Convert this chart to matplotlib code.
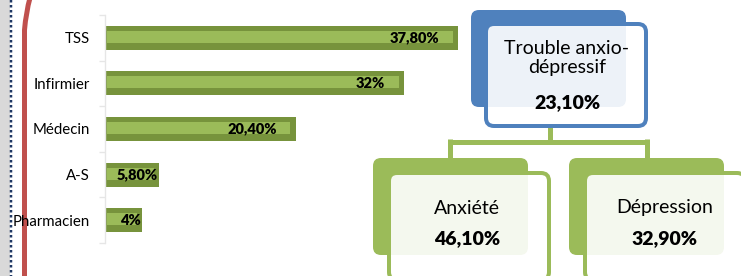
import matplotlib
matplotlib.use("Agg")
import matplotlib.pyplot as plt
from matplotlib.patches import FancyBboxPatch, Rectangle, PathPatch
from matplotlib.path import Path
import numpy as np

plt.rcParams['font.family'] = ['Lato', 'DejaVu Sans']

categories = ["TSS", "Infirmier", "Médecin", "A-S", "Pharmacien"]
values = [37.8, 32.0, 20.4, 5.8, 4.0]
value_labels = ["37,80%", "32%", "20,40%", "5,80%", "4%"]

top_title = "Trouble anxio-\ndépressif"
top_value = "23,10%"
child_titles = ["Anxiété", "Dépression"]
child_values = ["46,10%", "32,90%"]

W, H = 741, 276
fig = plt.figure(figsize=(W / 100, H / 100), dpi=100)

# overlay axes in pixel coordinates
ov = fig.add_axes([0, 0, 1, 1])
ov.set_xlim(0, W)
ov.set_ylim(H, 0)
ov.axis('off')

DARK = '#77933C'
LIGHT = '#9BBB59'
BLUE = '#4F81BD'
RED = '#C0504D'
px = 0.72  # points per pixel

# left decorations
ov.add_patch(Rectangle((0, 0), 9.5, H, color='#D9D9D9', lw=0))
ov.plot([11.2, 11.2], [0, H], color='#1F3864', lw=2.5 * px,
        linestyle=(0, (1.0, 1.0)), solid_capstyle='butt', dash_capstyle='butt')
red_path = Path([(30, -2), (26, 12), (24.5, 30), (24.5, H + 2)],
                [Path.MOVETO, Path.CURVE3, Path.CURVE3, Path.LINETO])
ov.add_patch(PathPatch(red_path, fill=False, edgecolor=RED, lw=5 * px))

# bar chart axes
ax_left, ax_w = 105, 400
ax_top, ax_bot = 15, 243
ax = fig.add_axes([ax_left / W, 1 - ax_bot / H, ax_w / W, (ax_bot - ax_top) / H])
ax.patch.set_alpha(0)
scale = 9.34  # px per unit
ax.set_xlim(0, ax_w / scale)
n = len(categories)
ax.set_ylim(n - 0.5, -0.5)
y = np.arange(n)
slot = (ax_bot - ax_top) / n
outer_h = 24 / slot
inner_h = 12 / slot
vals = np.array(values)
ax.barh(y, vals, height=outer_h, color=DARK, lw=0, zorder=2)
ax.barh(y - 1 / slot, vals - 0.75, left=0.2, height=inner_h, color=LIGHT, lw=0, zorder=3)
for yi, v, lab in zip(y, values, value_labels):
    xr = v - 2.0 if v > 10 else v - 0.15
    ax.text(xr, yi, lab, ha='right', va='center', fontsize=10.5,
            fontweight='heavy', color='black', zorder=4)
ax.set_yticks(y)
ax.set_yticklabels(categories, fontsize=10.8)
ax.tick_params(axis='y', length=0, pad=11)
ax.set_yticks(np.arange(n + 1) - 0.5, minor=True)
ax.tick_params(axis='y', which='minor', length=4, color='#E6E6E6', width=1)
ax.set_xticks([])
for s in ['top', 'right', 'bottom']:
    ax.spines[s].set_visible(False)
ax.spines['left'].set_color('#E6E6E6')
ax.spines['left'].set_linewidth(1)


def rbox(x0, y0, x1, y1, fc, ec=None, lw=0, alpha=None, r=8, z=2):
    p = FancyBboxPatch((x0, y0), x1 - x0, y1 - y0,
                       boxstyle=f"round,pad=0,rounding_size={r}",
                       facecolor=fc, edgecolor=ec if ec else 'none', lw=lw, zorder=z)
    if alpha is not None:
        p.set_facecolor(matplotlib.colors.to_rgba(fc, alpha))
    ov.add_patch(p)


# connectors
ov.plot([549.5, 549.5], [126, 141.5], color=LIGHT, lw=5 * px, zorder=1, solid_capstyle='butt')
ov.plot([450, 647], [141.5, 141.5], color=LIGHT, lw=5 * px, zorder=1, solid_capstyle='butt')
ov.plot([450, 450], [139, 160], color=LIGHT, lw=5 * px, zorder=1, solid_capstyle='butt')
ov.plot([647, 647], [139, 160], color=LIGHT, lw=5 * px, zorder=1, solid_capstyle='butt')

# top box
rbox(471, 10, 626, 107, BLUE, z=2)
rbox(486, 24, 646, 126, 'white', ec=BLUE, lw=4 * px, alpha=0.9, z=3)
ov.text(567, 58, top_title, ha='center', va='center', fontsize=14, linespacing=1.15, zorder=5)
ov.text(567, 103, top_value, ha='center', va='center', fontsize=14, fontweight='heavy', zorder=5)

# child boxes
child_x = [(373, 528, 389, 549), (569, 724, 585, 745)]
for (bx0, bx1, fx0, fx1), t, v in zip(child_x, child_titles, child_values):
    rbox(bx0, 158, bx1, 255, LIGHT, z=2)
    rbox(fx0, 173, fx1, 280, 'white', ec=LIGHT, lw=4 * px, alpha=0.9, z=3)
    cx = (fx0 + min(fx1, 741) + 3) / 2 if fx1 > 741 else (fx0 + fx1) / 2 - 2
    ov.text(cx, 208, t, ha='center', va='center', fontsize=14, zorder=5)
    ov.text(cx, 239, v, ha='center', va='center', fontsize=14, fontweight='heavy', zorder=5)

fig.savefig('out.png', dpi=100)
